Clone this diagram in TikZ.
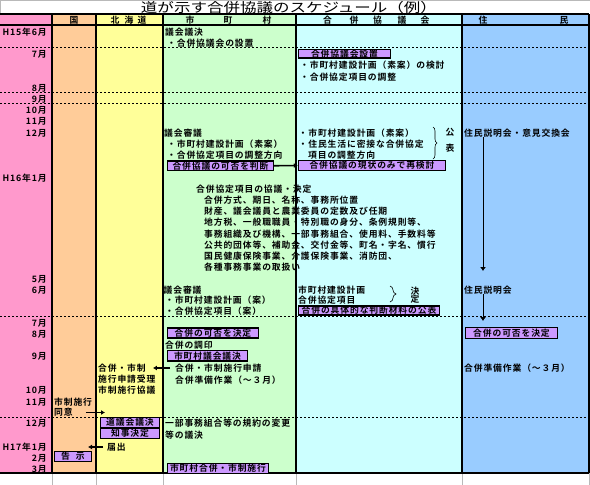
\documentclass[tikz,border=0pt]{standalone}
\usepackage{fontspec}
\setmainfont{Noto Sans CJK JP}
\newfontfamily\jpbold{Noto Sans CJK JP Bold}[LetterSpace=10]
\usetikzlibrary{arrows.meta,decorations.pathreplacing}
\newcommand\bodyfont{\jpbold\fontsize{8.8}{11}\selectfont}
\definecolor{pinkc}{HTML}{FF99CC}
\definecolor{kunic}{HTML}{FFCC99}
\definecolor{doc}{HTML}{FFFF99}
\definecolor{sichoc}{HTML}{CCFFCC}
\definecolor{kyogic}{HTML}{CCFFFF}
\definecolor{juminc}{HTML}{99CCFF}
\definecolor{boxc}{HTML}{CC99FF}
\tikzset{
  txt/.style={font=\bodyfont, anchor=west, inner sep=0pt},
  mon/.style={txt, anchor=east},
  hdr/.style={txt, anchor=center},
  pbox/.style={draw, line width=1.4pt, fill=boxc, font=\bodyfont, inner sep=0pt},
  arr/.style={line width=1.6pt, -{Latex[length=4pt,width=5pt]}},
  varr/.style={line width=0.9pt, -{Latex[length=4pt,width=6pt]}},
  rowline/.style={line width=0.8pt, dash pattern=on 2pt off 2pt},
  colline/.style={line width=1.3pt},
  gridline/.style={gray!55, line width=0.8pt},
  bracec/.style={decorate, decoration={brace, amplitude=#1}, line width=0.6pt},
  bracec/.default=4pt
}
\begin{document}
\begin{tikzpicture}[x=1pt,y=-1pt]
\useasboundingbox (0,0) rectangle (590,485);
% columns
\foreach \xa/\xb/\c in {0/52/pinkc,52/96/kunic,96/163/doc,163/296/sichoc,296/462/kyogic,462/589/juminc}
  \fill[\c] (\xa,14) rectangle (\xb,473);
\draw[gridline] (0,0.5) -- (590,0.5) (0.5,0) -- (0.5,14);
\foreach \x in {52,96,163,296,462,589} \draw[gridline] (\x,473) -- (\x,485);
\foreach \y in {47.5,92,103,316,417} \draw[rowline] (0,\y) -- (589,\y);
\draw[colline] (0,14) -- (589,14) (0,25) -- (589,25) (0,473) -- (589,473);
\foreach \x in {52,96,163,296,462,589} \draw[colline] (\x,14) -- (\x,473);

\node[font=\fontsize{13}{13}\selectfont, inner sep=0pt] (title) at (289,7.2)
  {\scalebox{1.27}[1]{道が示す合併協議のスケジュール（例）}};

% headers
\node[hdr] (hkuni) at (74,20) {国};
\foreach \c/\x [count=\i] in {北/115,海/129,道/142} \node[hdr] (hdo\i) at (\x,20) {\c};
\foreach \c/\x [count=\i] in {市/190,町/228,村/267} \node[hdr] (hsi\i) at (\x,20) {\c};
\foreach \c/\x [count=\i] in {合/327.5,併/354,協/377.5,議/402,会/425} \node[hdr] (hkyo\i) at (\x,20) {\c};
\foreach \c/\x [count=\i] in {住/483,民/564} \node[hdr] (hjm\i) at (\x,20) {\c};

% months
\foreach \m/\y [count=\i] in {H15年6月/32,7月/54,8月/88.5,9月/99,10月/110,11月/121.5,12月/133,H16年1月/178,5月/279,6月/290,7月/323,8月/334,9月/356,10月/390,11月/402.5,12月/423.5,H17年1月/447,2月/458,3月/469}
  \node[mon] (m\i) at (47,\y) {\m};

% 市町村
\node[txt] (s1) at (165,32) {議会議決};
\node[txt] (s2) at (167,43) {・合併協議会の設置};
\node[txt] (s3) at (164,133) {議会審議};
\node[txt] (s4) at (167,144) {・市町村建設計画（素案）};
\node[txt] (s5) at (167,155) {・合併協定項目の調整方向};
\node[pbox, minimum width=106pt, minimum height=9.5pt] (judge) at (220.5,165.75) {合併協議の可否を判断};
\node[txt] (kt0) at (196,189) {合併協定項目の協議・決定};
\foreach \t [count=\i] in {合併方式、期日、名称、事務所位置,財産、議会議員と農業委員の定数及び任期,地方税、一般職職員・特別職の身分、条例規則等、,事務組織及び機構、一部事務組合、使用料、手数料等,公共的団体等、補助金、交付金等、町名・字名、慣行,国民健康保険事業、介護保険事業、消防団、,各種事務事業の取扱い}
  \node[txt] (kt\i) at (204,{189+11.2*\i}) {\t};
\node[txt] (s6) at (163.5,290) {議会審議};
\node[txt] (s7) at (165,300.5) {・市町村建設計画（案）};
\node[txt] (s8) at (165,311) {・合併協定項目（案）};
\node[pbox, minimum width=91pt, minimum height=10pt] (decide) at (213,333) {合併の可否を決定};
\node[txt] (s9) at (165,345) {合併の調印};
\node[pbox, minimum width=80pt, minimum height=10.5pt] (council) at (207.5,355.75) {市町村議会議決};
\node[txt] (apply) at (175,368) {合併・市制施行申請};
\node[txt] (s10) at (175,380) {合併準備作業（～３月）};
\node[txt] (s11) at (165,423) {一部事務組合等の規約の変更};
\node[txt] (s12) at (165,435) {等の議決};
\node[pbox, minimum width=101pt, minimum height=10pt] (sekou) at (218,468.5) {市町村合併・市制施行};

% 合併協議会
\node[pbox, minimum width=92pt, minimum height=8.5pt] (kyoset) at (344.5,53.75) {合併協議会設置};
\node[txt] (k1) at (300,65) {・市町村建設計画（素案）の検討};
\node[txt] (k2) at (300,77) {・合併協定項目の調整};
\node[txt] (k3) at (298.5,133) {・市町村建設計画（素案）};
\node[txt] (k4) at (298.5,144) {・住民生活に密接な合併協定};
\node[txt] (k5) at (308,155) {項目の調整方向};
\draw[bracec] (433,127) -- (433,159);
\node[hdr] (pub1) at (450,132) {公};
\node[hdr] (pub2) at (450,148) {表};
\node[pbox, minimum width=147pt, minimum height=10pt] (review) at (372,165.5) {合併協議の現状のみで再検討};
\node[txt] (k6) at (298,290) {市町村建設計画};
\node[txt] (k7) at (298,300.5) {合併協定項目};
\draw[bracec=6pt] (390,286) -- (390,302);
\node[hdr] (fix1) at (415,291) {決};
\node[hdr] (fix2) at (415,299) {定};
\node[pbox, minimum width=141pt, minimum height=9pt] (material) at (369,310.5) {合併の具体的な判断材料の公表};

% 住民
\node[txt] (resexp) at (464,133) {住民説明会・意見交換会};
\coordinate (r1end) at (483,271);
\node[txt] (resexp2) at (464,290) {住民説明会};
\coordinate (r2end) at (483,321);
\node[pbox, minimum width=92pt, minimum height=11pt] (resdecide) at (511.5,333) {合併の可否を決定};
\node[txt] (r3) at (464,368) {合併準備作業（～３月）};

% 北海道
\node[txt] (accept) at (98,368) {合併・市制};
\node[txt] (d2) at (98,379) {施行申請受理};
\node[txt] (d3) at (98,390) {市制施行協議};
\node[pbox, minimum width=59pt, minimum height=10pt] (dogikai) at (130,422.5) {道議会議決};
\node[pbox, minimum width=59pt, minimum height=10pt] (chiji) at (130,433.5) {知事決定};
\node[txt] (notify) at (107,447) {届出};
\coordinate (n1) at (88,447);

% 国
\node[txt] (c1) at (54,402.5) {市制施行};
\node[txt] (consent) at (54,412.5) {同意};
\coordinate (c2) at (105,412.5);
\node[pbox, minimum width=37pt, minimum height=10pt] (kokuji) at (73,456.5) {告\hspace{6pt}示};

% arrows
\draw[arr] (judge.east) -- (review.west);
\draw[varr] (resexp.south -| r1end) -- (r1end);
\draw[varr] (resexp2.south -| r2end) -- (r2end);
\draw[arr, shorten <=5pt, shorten >=7pt] (apply.west) -- (accept.east);
\draw[arr, shorten <=13pt] (consent.east) -- (c2);
\draw[arr, shorten <=4pt] (notify.west) -- (n1);
\end{tikzpicture}
\end{document}
